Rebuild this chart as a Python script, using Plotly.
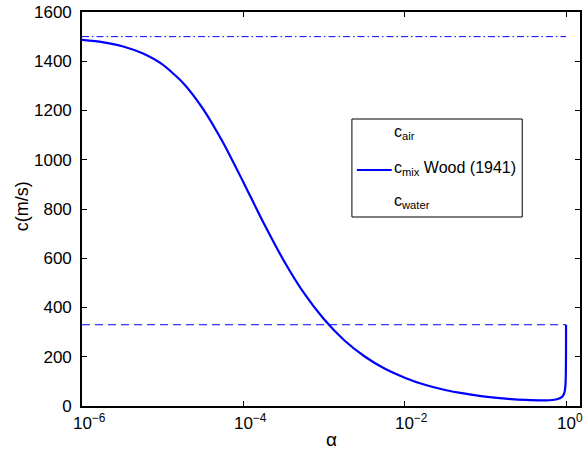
import math
import plotly.graph_objects as go

# ---- data ----
alpha = [1e-6, 1.778e-6, 3.162e-6, 5.623e-6, 1e-5, 1.778e-5, 3.162e-5, 5.623e-5,
         1e-4, 1.778e-4, 3.162e-4, 5.623e-4, 1e-3, 1.778e-3, 3.162e-3, 5.623e-3,
         1e-2, 1.778e-2, 3.162e-2, 5.623e-2, 0.1, 0.1778, 0.3162, 0.5623, 0.75,
         0.9, 0.95, 0.98, 0.99, 0.995, 0.998, 0.999, 0.9995, 1.0]
c_mix = [1487, 1478, 1461, 1432, 1386, 1313, 1207, 1069,
         909, 744, 591, 459, 352, 267, 202, 152,
         115, 86, 65, 50, 38, 30, 24.6, 23, 26.4,
         38, 52, 79, 109, 146, 202, 244, 277, 330]
c_air = 330
c_water = 1500
alpha_span = [1e-6, 1.0]

xtick_vals = [1e-6, 1e-4, 1e-2, 1e0]
xtick_text = ["10<sup>−6</sup>", "10<sup>−4</sup>", "10<sup>−2</sup>", "10<sup>0</sup>"]
ytick_vals = [0, 200, 400, 600, 800, 1000, 1200, 1400, 1600]

legend_names = ["c<sub>air</sub>", "c<sub>mix</sub> Wood (1941)", "c<sub>water</sub>"]

FONT = "Liberation Sans, Arial, Helvetica, sans-serif"
BLUE = "#0000ff"

fig = go.Figure()
fig.add_trace(go.Scatter(x=alpha_span, y=[c_air, c_air], mode="lines",
                         line=dict(color=BLUE, width=1, dash="8px,5px"),
                         showlegend=False, hoverinfo="skip"))
fig.add_trace(go.Scatter(x=alpha, y=c_mix, mode="lines",
                         line=dict(color=BLUE, width=2.2, shape="spline", smoothing=0.6),
                         showlegend=False))
fig.add_trace(go.Scatter(x=alpha_span, y=[c_water, c_water], mode="lines",
                         line=dict(color=BLUE, width=1, dash="7px,3px,1.5px,3px"),
                         showlegend=False, hoverinfo="skip"))

W, H = 583, 456
L, R, T, B = 82, 1, 12, 50
PW, PH = W - L - R, H - T - B


def px(xp):
    return (xp - L) / PW


def py(yp):
    return (H - B - yp) / PH


annotations = []
# x tick labels (MATLAB style: base centered on tick, exponent to the right)
for v, t in zip(xtick_vals, xtick_text):
    annotations.append(dict(x=math.log10(v), xref="x", y=0, yref="paper",
                            text=t, showarrow=False, xanchor="left", yanchor="top",
                            xshift=-11.5, yshift=-3,
                            font=dict(family=FONT, size=17, color="black")))
# axis titles
annotations.append(dict(x=px(333), xref="paper", y=py(440), yref="paper", text="α",
                        showarrow=False, xanchor="center", yanchor="middle",
                        font=dict(family=FONT, size=19, color="black")))
annotations.append(dict(x=px(22), xref="paper", y=py(206), yref="paper", text="c(m/s)",
                        showarrow=False, xanchor="center", yanchor="middle", textangle=-90,
                        font=dict(family=FONT, size=18, color="black")))
# legend texts
legend_y = [132, 168, 201]
for name, yy in zip(legend_names, legend_y):
    annotations.append(dict(x=px(393), xref="paper", y=py(yy), yref="paper", text=name,
                            showarrow=False, xanchor="left", yanchor="middle",
                            font=dict(family=FONT, size=16, color="black")))

shapes = [
    dict(type="rect", xref="paper", yref="paper", x0=px(353), x1=px(524),
         y0=py(217), y1=py(119), line=dict(color="black", width=1), fillcolor="white",
         layer="above"),
    dict(type="line", xref="paper", yref="paper", x0=px(358), x1=px(393),
         y0=py(170), y1=py(170), line=dict(color=BLUE, width=2), layer="above"),
]

fig.update_layout(
    width=W, height=H,
    margin=dict(l=L, r=R, t=T, b=B, pad=0),
    paper_bgcolor="white", plot_bgcolor="white",
    showlegend=False,
    font=dict(family=FONT, size=17, color="black"),
    annotations=annotations,
    shapes=shapes,
    xaxis=dict(type="log", range=[-6, -6 + 6 * PW / 486], tickvals=xtick_vals,
               showticklabels=False, ticks="inside", ticklen=5, tickwidth=1,
               tickcolor="black", showline=True, linecolor="black", linewidth=1.6,
               mirror="ticks", showgrid=False, zeroline=False),
    yaxis=dict(range=[0, 1600], tickvals=ytick_vals, ticks="inside", ticklen=5,
               tickwidth=1, tickcolor="black", showline=True, linecolor="black",
               linewidth=1.6, mirror="ticks", showgrid=False, zeroline=False,
               ticklabelstandoff=5,
               tickfont=dict(family=FONT, size=17, color="black")),
)

fig.write_html("out.html")
